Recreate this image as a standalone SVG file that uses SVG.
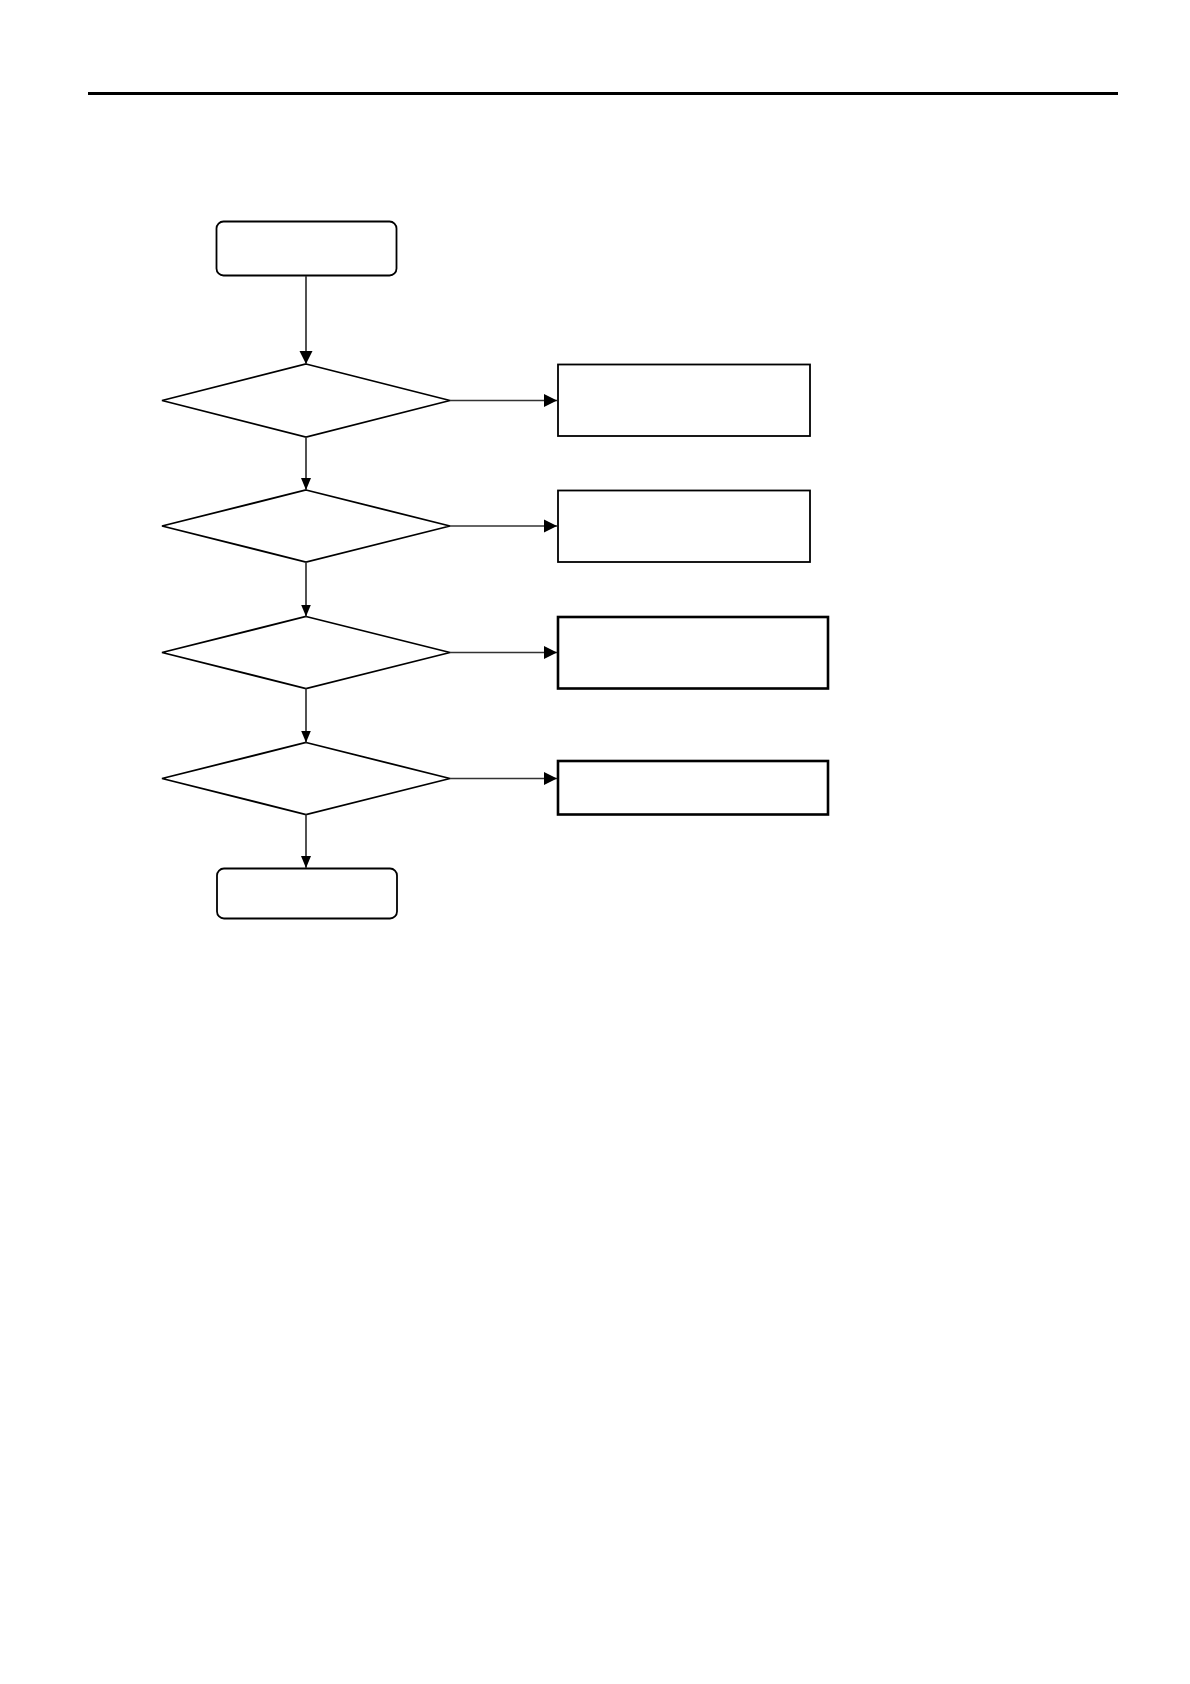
<svg xmlns="http://www.w3.org/2000/svg" width="1190" height="1684" viewBox="0 0 1190 1684">
<style>
.shape{fill:#fff;stroke:#000;stroke-width:1.8}
.thick{stroke-width:2.6}
.conn{fill:none;stroke:#333;stroke-width:1.7}
</style>
<defs>
<marker id="arr" markerUnits="userSpaceOnUse" markerWidth="12" markerHeight="12" viewBox="0 0 12 12" refX="12" refY="6" orient="auto">
<path d="M0,1 L12,6 L0,11 Z" fill="#000"/>
</marker>
<marker id="arrL" markerUnits="userSpaceOnUse" markerWidth="13" markerHeight="14" viewBox="0 0 13 14" refX="13" refY="7" orient="auto">
<path d="M0,0.5 L13,7 L0,13.5 Z" fill="#000"/>
</marker>
</defs>
<rect x="88" y="92" width="1030" height="3" fill="#000"/>
<g id="start"><rect class="shape" x="216.5" y="221.5" width="180" height="54" rx="7"/></g>
<g id="d1"><polygon class="shape" points="306,364 450,400.5 306,437 162,400.5"/></g>
<g id="d2"><polygon class="shape" points="306,490 450,526 306,562 162,526"/></g>
<g id="d3"><polygon class="shape" points="306,616.5 450,652.5 306,688.5 162,652.5"/></g>
<g id="d4"><polygon class="shape" points="306,742.5 450,778.5 306,814.5 162,778.5"/></g>
<g id="r1"><rect class="shape" x="558" y="364.5" width="252" height="71.5"/></g>
<g id="r2"><rect class="shape" x="558" y="490.5" width="252" height="71.5"/></g>
<g id="r3"><rect class="shape thick" x="558" y="617" width="270" height="71.5"/></g>
<g id="r4"><rect class="shape thick" x="558" y="761" width="270" height="53.5"/></g>
<g id="end"><rect class="shape" x="217" y="868.5" width="180" height="50" rx="7"/></g>
<g id="connectors">
<line class="conn" x1="306" y1="276" x2="306" y2="364" marker-end="url(#arrL)"/>
<line class="conn" x1="306" y1="437" x2="306" y2="490" marker-end="url(#arr)"/>
<line class="conn" x1="306" y1="562" x2="306" y2="616.5" marker-end="url(#arr)"/>
<line class="conn" x1="306" y1="688.5" x2="306" y2="742.5" marker-end="url(#arr)"/>
<line class="conn" x1="306" y1="814.5" x2="306" y2="868" marker-end="url(#arr)"/>
<line class="conn" x1="450" y1="400.5" x2="557" y2="400.5" marker-end="url(#arrL)"/>
<line class="conn" x1="450" y1="526" x2="557" y2="526" marker-end="url(#arrL)"/>
<line class="conn" x1="450" y1="652.5" x2="557" y2="652.5" marker-end="url(#arrL)"/>
<line class="conn" x1="450" y1="778.5" x2="557" y2="778.5" marker-end="url(#arrL)"/>
</g>
</svg>
